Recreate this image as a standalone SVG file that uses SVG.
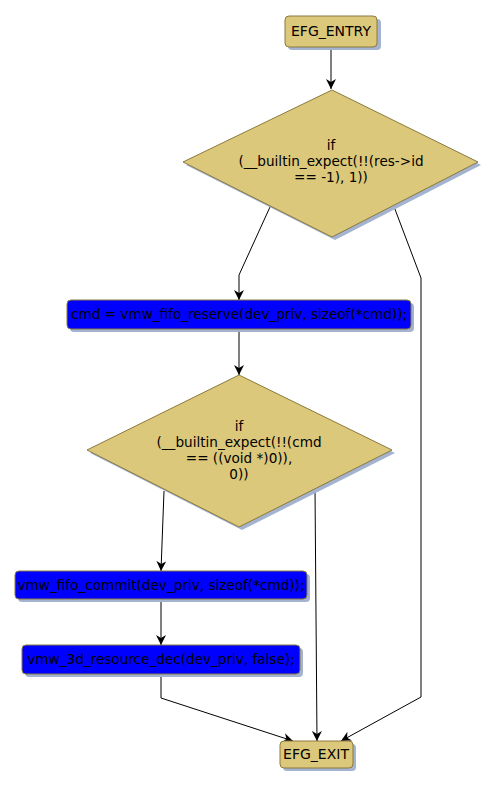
<svg xmlns="http://www.w3.org/2000/svg" width="497" height="788" viewBox="0 0 497 788">
<style>
.bg{fill:#ffffff}
.term{fill:#dcc87a;stroke:#8a7a3c;stroke-width:1}
.dec{fill:#dcc87a;stroke:#8a7a3c;stroke-width:1}
.act{fill:#0000ff;stroke:#8a7a3c;stroke-width:1}
.sh{fill:#a3b3d0}
.t{font-family:"DejaVu Sans",sans-serif;font-size:13.6px;fill:#000;text-anchor:middle}
.tt{font-size:14px}
.e{fill:none;stroke:#000;stroke-width:1}
</style>
<defs>
<marker id="ah" viewBox="0 0 10 10" refX="10" refY="5" markerWidth="10" markerHeight="10" markerUnits="userSpaceOnUse" orient="auto">
<path d="M0,0 L10,5 L0,10 L3,5 z" fill="#000"/>
</marker>
</defs>
<rect class="bg" x="0" y="0" width="497" height="788"/>
<g id="connectors">
<path class="e" d="M331,47 L331,89" marker-end="url(#ah)"/>
<path class="e" d="M270,207 L239,275 L239,300" marker-end="url(#ah)"/>
<path class="e" d="M393,204 L421,278 L421,697 L341,741" marker-end="url(#ah)"/>
<path class="e" d="M239,329 L239,375" marker-end="url(#ah)"/>
<path class="e" d="M164,491 L161,571" marker-end="url(#ah)"/>
<path class="e" d="M315,489 L317,741" marker-end="url(#ah)"/>
<path class="e" d="M161,599 L161,645" marker-end="url(#ah)"/>
<path class="e" d="M161,674 L161,698 L293,741" marker-end="url(#ah)"/>
</g>
<g id="EFG_ENTRY">
<rect class="sh" x="288" y="19" width="93" height="31" rx="4"/>
<rect class="term" x="285" y="16" width="92" height="31" rx="4"/>
<text class="t tt" x="331" y="36">EFG_ENTRY</text>
</g>
<g id="if1">
<polygon class="sh" points="335,93 481,165 335,240 186,165"/>
<polygon class="dec" points="332,90 478,162 332,237 183,162"/>
<text class="t" x="331" y="150">if</text>
<text class="t" x="331" y="166">(__builtin_expect(!!(res-&gt;id</text>
<text class="t" x="331" y="182">== -1), 1))</text>
</g>
<g id="reserve">
<rect class="sh" x="70" y="303" width="344" height="29" rx="4"/>
<rect class="act" x="67" y="300" width="344" height="29" rx="4"/>
<text class="t" x="239" y="319">cmd = vmw_fifo_reserve(dev_priv, sizeof(*cmd));</text>
</g>
<g id="if2">
<polygon class="sh" points="242,378 395,453 242,530 90,453"/>
<polygon class="dec" points="239,375 392,450 239,527 87,450"/>
<text class="t" x="239" y="431">if</text>
<text class="t" x="239" y="447">(__builtin_expect(!!(cmd</text>
<text class="t" x="239" y="463">== ((void *)0)),</text>
<text class="t" x="239" y="479">0))</text>
</g>
<g id="commit">
<rect class="sh" x="18" y="574" width="292" height="28" rx="4"/>
<rect class="act" x="15" y="571" width="292" height="28" rx="4"/>
<text class="t" x="161" y="590">vmw_fifo_commit(dev_priv, sizeof(*cmd));</text>
</g>
<g id="resdec">
<rect class="sh" x="25" y="648" width="278" height="29" rx="4"/>
<rect class="act" x="22" y="645" width="278" height="29" rx="4"/>
<text class="t" x="161" y="664">vmw_3d_resource_dec(dev_priv, false);</text>
</g>
<g id="EFG_EXIT">
<rect class="sh" x="283" y="744" width="73" height="27" rx="4"/>
<rect class="term" x="280" y="741" width="73" height="27" rx="4"/>
<text class="t tt" x="316" y="759">EFG_EXIT</text>
</g>
</svg>
